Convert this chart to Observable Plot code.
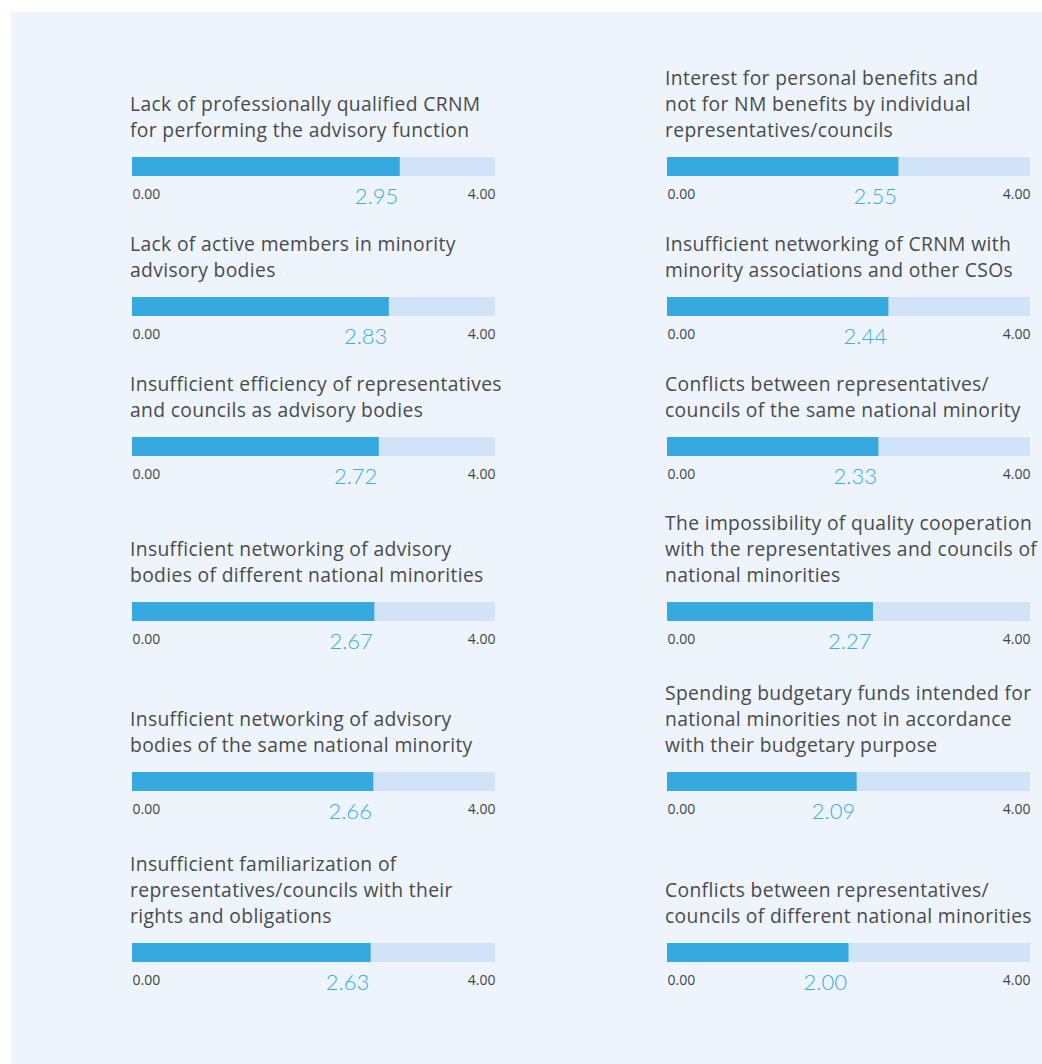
<!DOCTYPE html>
<html>
<head>
<meta charset="utf-8">
<script src="https://cdn.jsdelivr.net/npm/d3@7"></script>
<script src="https://cdn.jsdelivr.net/npm/@observablehq/plot@0.6"></script>
<style>
  html, body { margin: 0; padding: 0; background: #ffffff; }
  #wrap { position: relative; width: 1042px; height: 1064px; overflow: hidden; background: #ffffff; }
  #panel { position: absolute; left: 11px; top: 12px; right: 0; bottom: 0; background: #edf4fc; }
  .item { position: absolute; width: 400px; }
  .title {
    position: absolute; left: 0; bottom: 100%; padding-bottom: 14px;
    font-family: "Open Sans", sans-serif; font-size: 19.3px; line-height: 26px;
    color: #4a4a4a; white-space: pre; letter-spacing: 0.35px;
  }
  .item svg { display: block; margin-left: 0px; }
</style>
</head>
<body>
<div id="wrap"><div id="panel"></div></div>
<script>
// ---- data ----
const leftTitles = [
  "Lack of professionally qualified CRNM\nfor performing the advisory function",
  "Lack of active members in minority\nadvisory bodies",
  "Insufficient efficiency of representatives\nand councils as advisory bodies",
  "Insufficient networking of advisory\nbodies of different national minorities",
  "Insufficient networking of advisory\nbodies of the same national minority",
  "Insufficient familiarization of\nrepresentatives/councils with their\nrights and obligations"
];
const leftValues = [2.95, 2.83, 2.72, 2.67, 2.66, 2.63];

const rightTitles = [
  "Interest for personal benefits and\nnot for NM benefits by individual\nrepresentatives/councils",
  "Insufficient networking of CRNM with\nminority associations and other CSOs",
  "Conflicts between representatives/\ncouncils of the same national minority",
  "The impossibility of quality cooperation\nwith the representatives and councils of\nnational minorities",
  "Spending budgetary funds intended for\nnational minorities not in accordance\nwith their budgetary purpose",
  "Conflicts between representatives/\ncouncils of different national minorities"
];
const rightValues = [2.55, 2.44, 2.33, 2.27, 2.09, 2.00];

const scaleTicks = [0, 4];

// ---- layout (not data) ----
const columnLefts = [130, 665];
const rowTops = [157, 297, 437, 602, 772, 943];
const trackColor = "#d1e3f6";
const barColor = "#36a9e0";
const valueColor = "#3aaee6";
const fmt = d3.format(".2f");

function makeItem(title, value, left, top) {
  const item = document.createElement("div");
  item.className = "item";
  item.style.left = left + "px";
  item.style.top = top + "px";
  const t = document.createElement("div");
  t.className = "title";
  t.textContent = title;
  item.appendChild(t);

  const chart = Plot.plot({
    width: 367,
    height: 56,
    marginTop: 0,
    marginBottom: 37,
    marginLeft: 2,
    marginRight: 2,
    x: {domain: scaleTicks, axis: null},
    style: {background: "transparent", overflow: "visible"},
    marks: [
      Plot.barX([scaleTicks], {x1: d => d[0], x2: d => d[1], fill: trackColor}),
      Plot.barX([value], {x1: scaleTicks[0], x2: d => d, fill: barColor}),
      Plot.text([scaleTicks[0]], {
        x: d => d, text: d => fmt(d), textAnchor: "start",
        frameAnchor: "bottom", lineAnchor: "bottom", dy: 22,
        fontSize: 14, fill: "#444444", fontFamily: "Open Sans, sans-serif", letterSpacing: "-0.4px"
      }),
      Plot.text([scaleTicks[1]], {
        x: d => d, text: d => fmt(d), textAnchor: "end",
        frameAnchor: "bottom", lineAnchor: "bottom", dy: 22,
        fontSize: 14, fill: "#444444", fontFamily: "Open Sans, sans-serif", letterSpacing: "-0.4px"
      }),
      Plot.text([value], {
        x: d => d, text: d => fmt(d), textAnchor: "end",
        frameAnchor: "bottom", lineAnchor: "bottom", dy: 27, dx: -2,
        fontSize: 22, fill: valueColor, fontFamily: "Lato, sans-serif", fontWeight: 300, letterSpacing: "0.6px"
      })
    ]
  });
  item.appendChild(chart);
  document.getElementById("wrap").appendChild(item);
}

leftTitles.forEach((t, i) => makeItem(t, leftValues[i], columnLefts[0], rowTops[i]));
rightTitles.forEach((t, i) => makeItem(t, rightValues[i], columnLefts[1], rowTops[i]));
</script>
</body>
</html>
